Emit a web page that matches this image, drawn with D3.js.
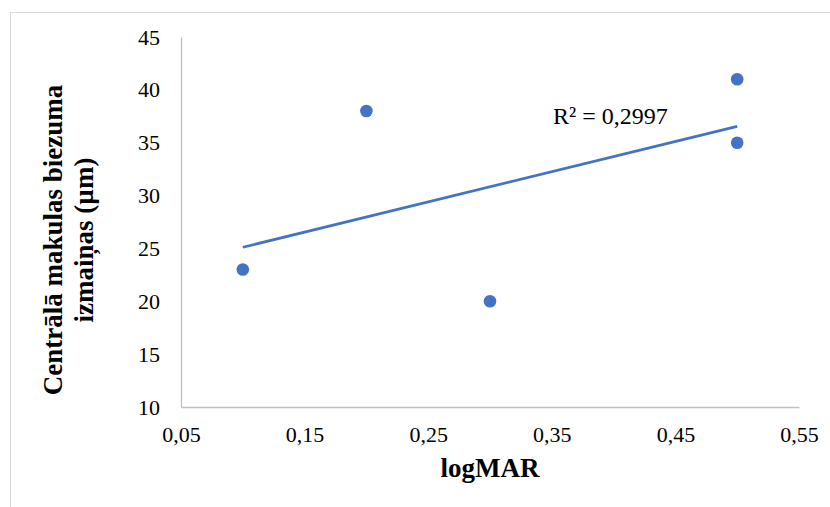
<!DOCTYPE html>
<html>
<head>
<meta charset="utf-8">
<script src="https://cdn.jsdelivr.net/npm/d3@7"></script>
<style>
  body { margin: 0; background: #fff; }
  svg { display: block; }
</style>
</head>
<body>
<div id="chart"></div>
<script>
const logMAR = [0.1, 0.2, 0.3, 0.5, 0.5];
const thicknessChange = [23, 38, 20, 41, 35];
const xTicks = [0.05, 0.15, 0.25, 0.35, 0.45, 0.55];
const yTicks = [10, 15, 20, 25, 30, 35, 40, 45];
const xTitle = "logMAR";
const yTitleLines = ["Centrālā makulas biezuma", "izmaiņas (µm)"];

const W = 830, H = 507;
const margin = { top: 37, right: 31, bottom: 100, left: 181 };
const width = W - margin.left - margin.right,
      height = H - margin.top - margin.bottom;
const serif = "'Liberation Serif', 'Times New Roman', serif";

const svg = d3.select("#chart").append("svg")
    .attr("width", W)
    .attr("height", H);

// outer chart frame (runs off the right/bottom of the image)
svg.append("rect")
    .attr("x", 10.5).attr("y", 12.5)
    .attr("width", W + 20).attr("height", H + 20)
    .style("fill", "none")
    .style("stroke", "#d9d9d9");

const g = svg.append("g")
    .attr("transform", `translate(${margin.left},${margin.top})`);

const x = d3.scaleLinear().domain([0.05, 0.55]).range([0, width]);
const y = d3.scaleLinear().domain([10, 45]).range([height, 0]);

const fmt = d => d3.format(".2f")(d).replace(".", ",");

const xAxis = g.append("g")
    .attr("transform", `translate(0,${height})`)
    .call(d3.axisBottom(x).tickValues(xTicks).tickFormat(fmt).tickSize(0).tickPadding(19));
xAxis.select(".domain").style("stroke", "#bfbfbf").style("stroke-width", 1.3);
xAxis.selectAll("text")
    .style("font-family", serif)
    .style("font-size", "22px")
    .style("fill", "#000");

const yAxis = g.append("g")
    .call(d3.axisLeft(y).tickValues(yTicks).tickFormat(d3.format("d")).tickSize(0).tickPadding(21));
yAxis.select(".domain").style("stroke", "#bfbfbf").style("stroke-width", 1.3);
yAxis.selectAll("text")
    .style("font-family", serif)
    .style("font-size", "22px")
    .style("fill", "#000");

// linear trendline (least squares)
const n = logMAR.length;
const mx = d3.mean(logMAR), my = d3.mean(thicknessChange);
let sxy = 0, sxx = 0, syy = 0;
for (let i = 0; i < n; i++) {
    sxy += (logMAR[i] - mx) * (thicknessChange[i] - my);
    sxx += (logMAR[i] - mx) ** 2;
    syy += (thicknessChange[i] - my) ** 2;
}
const slope = sxy / sxx, intercept = my - slope * mx;
const r2 = (sxy * sxy) / (sxx * syy);
const x0 = d3.min(logMAR), x1 = d3.max(logMAR);

g.append("line")
    .attr("x1", x(x0)).attr("y1", y(intercept + slope * x0))
    .attr("x2", x(x1)).attr("y2", y(intercept + slope * x1))
    .style("stroke", "#4472c4")
    .style("stroke-width", 2.75);

g.selectAll(".dot")
    .data(logMAR.map((d, i) => ({ x: d, y: thicknessChange[i] })))
    .enter()
    .append("circle")
    .attr("class", "dot")
    .attr("cx", d => x(d.x))
    .attr("cy", d => y(d.y))
    .attr("r", 6.3)
    .style("fill", "#4472c4");

svg.append("text")
    .attr("x", 553)
    .attr("y", 124)
    .style("font-family", serif)
    .style("font-size", "24px")
    .text("R² = " + r2.toFixed(4).replace(".", ","));

svg.append("text")
    .attr("x", margin.left + width / 2)
    .attr("y", 477)
    .attr("text-anchor", "middle")
    .style("font-family", serif)
    .style("font-size", "27px")
    .style("font-weight", "bold")
    .text(xTitle);

const yt = svg.append("text")
    .attr("transform", `translate(62,240) rotate(-90)`)
    .attr("text-anchor", "middle")
    .style("font-family", serif)
    .style("font-size", "27px")
    .style("font-weight", "bold");
yt.selectAll("tspan")
    .data(yTitleLines)
    .enter()
    .append("tspan")
    .attr("x", 0)
    .attr("dy", (d, i) => i === 0 ? 0 : 31)
    .text(d => d);
</script>
</body>
</html>
